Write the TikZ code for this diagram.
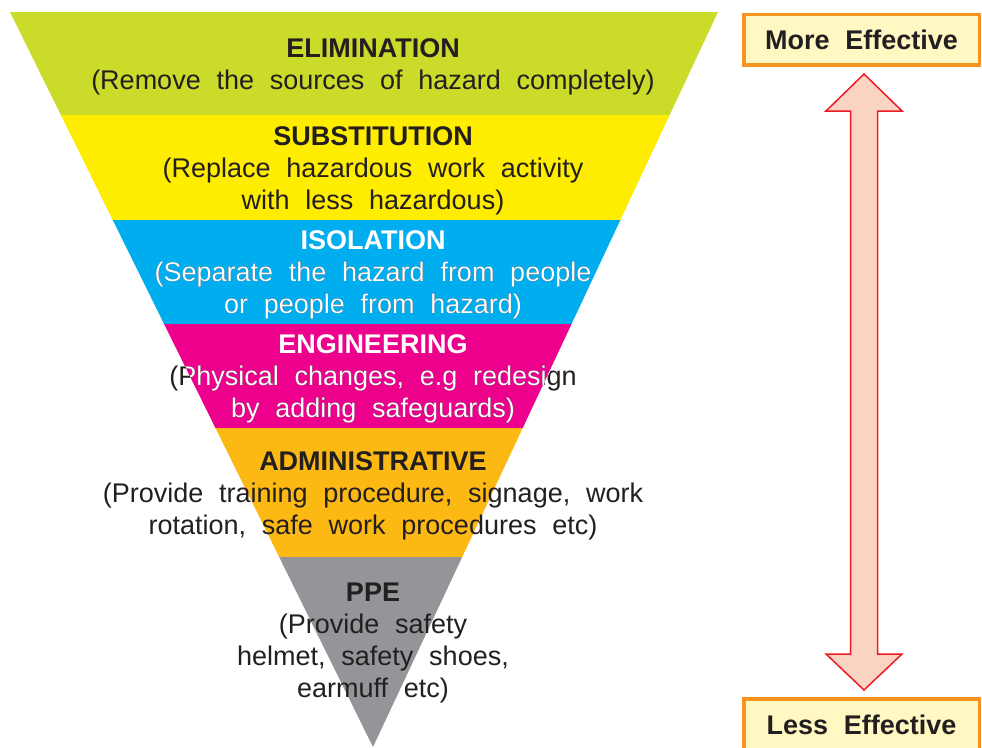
\documentclass[tikz,border=0pt]{standalone}
\usepackage{fontspec}
\setmainfont{Liberation Sans}[WordSpace=2.1]
\usetikzlibrary{calc}

\definecolor{elim}{HTML}{CBDB2A}
\definecolor{subst}{HTML}{FFED00}
\definecolor{isol}{HTML}{00AEEF}
\definecolor{engi}{HTML}{EC008C}
\definecolor{admin}{HTML}{FDB913}
\definecolor{ppe}{HTML}{939598}
\definecolor{ink}{HTML}{231F20}
\definecolor{boxfill}{HTML}{FFF8C3}
\definecolor{boxline}{HTML}{F7941D}
\definecolor{arrowfill}{HTML}{FBD3C2}
\definecolor{arrowline}{HTML}{ED1C24}

\tikzset{
  txt/.style={inner sep=0pt, anchor=base, text=ink, font=\fontsize{27}{32}\selectfont},
  ttl/.style={txt, font=\fontsize{27}{32}\selectfont\bfseries},
  light/.style={text=white},
  effbox/.style={draw=boxline, fill=boxfill, line width=3.5pt, inner sep=0pt,
                 minimum width=235.5pt, text=ink, font=\fontsize{27}{32}\selectfont\bfseries},
  dblarrow/.style={draw=arrowline, fill=arrowfill, line width=1.5pt, line join=miter},
}

% one horizontal slice of the inverted triangle, between two fractions of its height
\newcommand\hband[3]{%
  \fill[#1] ($(TL)!#2!(AP)$) -- ($(TR)!#2!(AP)$) -- ($(TR)!#3!(AP)$) -- ($(TL)!#3!(AP)$) -- cycle;}
\newcommand\hclip[2]{%
  \clip ($(TL)!#1!(AP)$) -- ($(TR)!#1!(AP)$) -- ($(TR)!#2!(AP)$) -- ($(TL)!#2!(AP)$) -- cycle;}

\begin{document}
\begin{tikzpicture}[x=1pt, y=-1pt]
\useasboundingbox (0,0) rectangle (982,747);

% triangle corners
\coordinate (TL) at (10,12);
\coordinate (TR) at (718,12);
\coordinate (AP) at (373,747);

% hierarchy bands
\hband{elim}{0}{0.14014}
\hband{subst}{0.14014}{0.28299}
\hband{isol}{0.28299}{0.42449}
\hband{engi}{0.42449}{0.56599}
\hband{admin}{0.56599}{0.74150}
\hband{ppe}{0.74150}{1}

% elimination
\node[ttl] (elimT) at (373,57.5) {ELIMINATION};
\node[txt] (elimA) at (373,89.5) {(Remove the sources of hazard completely)};

% substitution
\node[ttl] (subT) at (373,145.5) {SUBSTITUTION};
\node[txt] (subA) at (373,177.5) {(Replace hazardous work activity};
\node[txt] (subB) at (373,209.5) {with less hazardous)};

% isolation and engineering: dark text outside the triangle, white inside
\node[txt] (isoA) at (373,281.5) {(Separate the hazard from people};
\node[txt] (isoB) at (373,313.5) {or people from hazard)};
\node[txt] (engA) at (373,385.5) {(Physical changes, e.g redesign};
\node[txt] (engB) at (373,417.5) {by adding safeguards)};
\begin{scope}
  \hclip{0.28299}{0.42449}
  \node[ttl, light] (isoT) at (373,249.5) {ISOLATION};
  \node[txt, light] (isoAw) at (373,281.5) {(Separate the hazard from people};
  \node[txt, light] (isoBw) at (373,313.5) {or people from hazard)};
\end{scope}
\begin{scope}
  \hclip{0.42449}{0.56599}
  \node[ttl, light] (engT) at (373,353.5) {ENGINEERING};
  \node[txt, light] (engAw) at (373,385.5) {(Physical changes, e.g redesign};
  \node[txt, light] (engBw) at (373,417.5) {by adding safeguards)};
\end{scope}

% administrative
\node[ttl] (admT) at (373,470.5) {ADMINISTRATIVE};
\node[txt] (admA) at (373,502.5) {(Provide training procedure, signage, work};
\node[txt] (admB) at (373,534.5) {rotation, safe work procedures etc)};

% personal protective equipment
\node[ttl] (ppeT) at (373,601) {PPE};
\node[txt] (ppeA) at (373,633) {(Provide safety};
\node[txt] (ppeB) at (373,665) {helmet, safety shoes,};
\node[txt] (ppeC) at (373,697) {earmuff etc)};

% effectiveness scale
\node[effbox, minimum height=50.7pt] (more) at (861.55,39.85) {More Effective};
\node[effbox, minimum height=52pt] (less) at (861.55,724.8) {Less Effective};

\coordinate (upTip) at (864,74);
\coordinate (dnTip) at (864,690);
\draw[dblarrow] (upTip) -- ++(38,37) -- ++(-24.5,0) -- ++(0,543) -- ++(24.5,0)
  -- (dnTip) -- ++(-38,-36) -- ++(24.5,0) -- ++(0,-543) -- ++(-24.5,0) -- cycle;
\end{tikzpicture}
\end{document}
